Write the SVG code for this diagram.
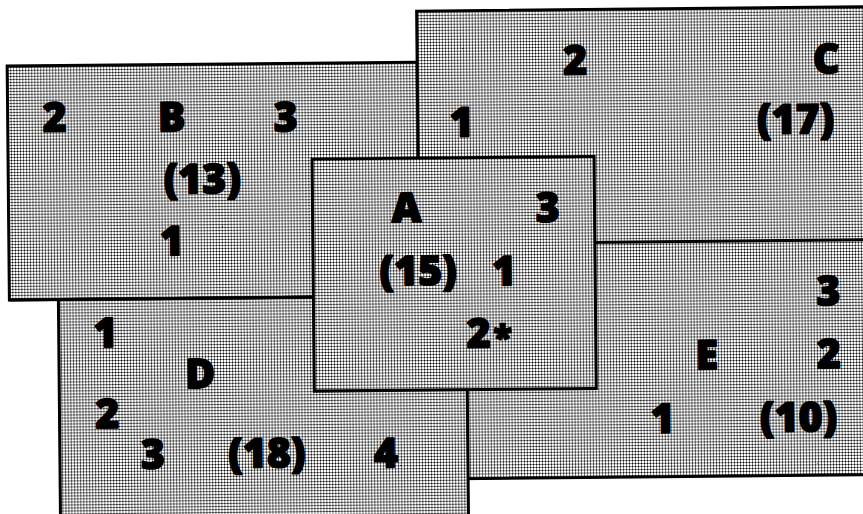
<svg xmlns="http://www.w3.org/2000/svg" width="863" height="514" viewBox="0 0 863 514">
  <style>
    .box { fill: url(#ht); stroke: #000; stroke-width: 3; }
    .t { font-family: "Open Sans", "Liberation Sans", sans-serif; font-weight: 800; font-size: 41px; fill: #000; stroke: #000; stroke-width: 1.6; stroke-linejoin: round; text-anchor: middle; }
    .s { font-size: 34px; }
  </style>
  <defs>
    <pattern id="ht" width="3" height="3" patternUnits="userSpaceOnUse">
      <rect width="3" height="3" fill="#fff"/>
      <rect width="3" height="1" fill="#808080"/>
      <rect width="1" height="3" fill="#808080"/>
      <rect width="1" height="1" fill="#000"/>
    </pattern>
  </defs>
  <rect width="863" height="514" fill="#fff"/>
  <g transform="rotate(-0.55 431 257)">
    <g id="B">
      <rect class="box" x="9" y="62" width="460" height="234"/>
      <text class="t" x="56" y="128">2</text>
      <text class="t" x="173" y="129">B</text>
      <text class="t" x="287" y="130">3</text>
      <text class="t" x="203" y="191">(13)</text>
      <text class="t" x="172" y="253">1</text>
    </g>
    <g id="C">
      <rect class="box" x="419" y="11" width="470" height="240"/>
      <text class="t" x="577" y="76">2</text>
      <text class="t" x="828" y="77">C</text>
      <text class="t" x="463" y="137">1</text>
      <text class="t" x="797" y="137">(17)</text>
    </g>
    <g id="E">
      <rect class="box" x="400" y="244" width="490" height="235"/>
      <text class="t" x="828" y="309">3</text>
      <text class="t" x="706" y="372">E</text>
      <text class="t" x="828" y="372">2</text>
      <text class="t" x="661" y="435">1</text>
      <text class="t" x="797" y="435">(10)</text>
    </g>
    <g id="D">
      <rect class="box" x="58" y="296" width="408" height="240"/>
      <path d="M9 296 H320" fill="none" stroke="#000" stroke-width="3"/>
      <text class="t" x="105" y="344">1</text>
      <text class="t" x="199" y="386">D</text>
      <text class="t" x="106" y="425">2</text>
      <text class="t" x="151" y="466">3</text>
      <text class="t" x="265" y="466">(18)</text>
      <text class="t" x="384" y="467">4</text>
    </g>
    <g id="A">
      <rect class="box" x="313" y="158" width="282" height="232"/>
      <text class="t" x="407" y="222">A</text>
      <text class="t" x="548" y="223">3</text>
      <text class="t" x="418" y="285">(15)</text>
      <text class="t" x="504" y="286">1</text>
      <text class="t" x="478" y="348">2</text>
      <text class="t s" x="502" y="350">*</text>
    </g>
    <g id="connectors"/>
  </g>
</svg>
